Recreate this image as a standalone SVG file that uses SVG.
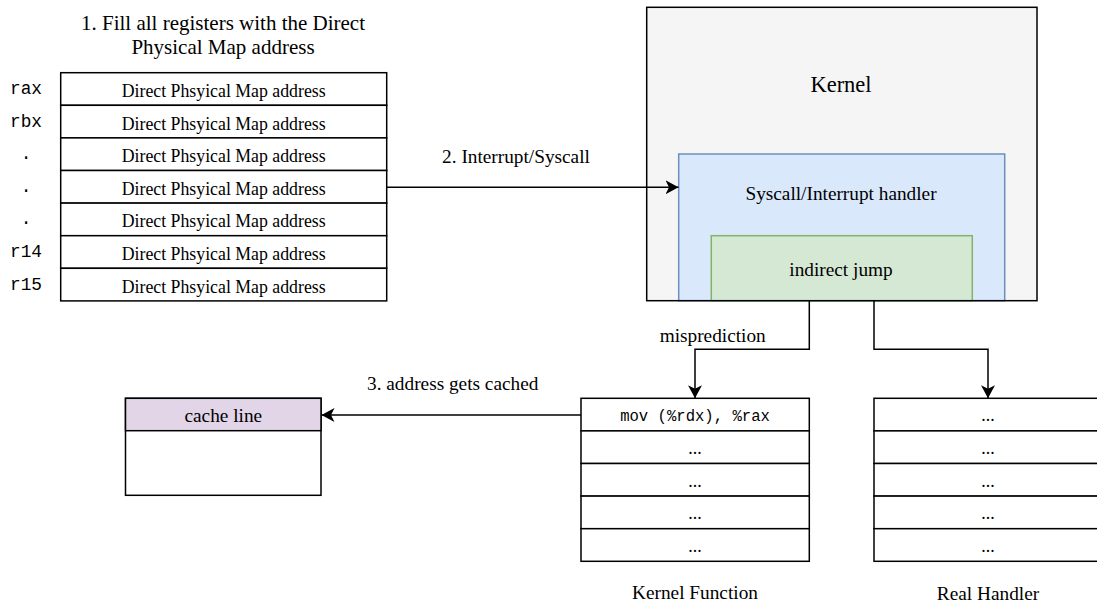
<svg xmlns="http://www.w3.org/2000/svg" width="1097" height="605" viewBox="0 0 1097 605">
  <style>
    .serif { font-family: "Liberation Serif", "Times New Roman", serif; fill: #000; text-anchor: middle; }
    .mono { font-family: "Liberation Mono", "Courier New", monospace; fill: #000; text-anchor: middle; }
    .cell { fill: #ffffff; stroke: #000; stroke-width: 1.5; }
    .edge { fill: none; stroke: #000; stroke-width: 1.5; }
    .t18 { font-size: 17.8px; }
    .t19 { font-size: 19.3px; }
    .t21 { font-size: 21px; }
  </style>
  <defs>
    <marker id="arrow" markerUnits="userSpaceOnUse" markerWidth="14" markerHeight="14" refX="13" refY="7" orient="auto">
      <path d="M0,0 L13,7 L0,14 L3.5,7 Z" fill="#000"/>
    </marker>
  </defs>

  <rect width="1097" height="605" fill="#ffffff"/>

  <!-- step 1 caption, two lines -->
  <g id="caption-fill">
    <text class="serif t21" x="223" y="30.3">1. Fill all registers with the Direct<tspan x="223" dy="23.6">Physical Map address</tspan></text>
  </g>

  <!-- register file -->
  <g id="registers">
    <rect class="cell" x="60.7" y="72.7" width="326" height="32.6"/>
    <rect class="cell" x="60.7" y="105.3" width="326" height="32.6"/>
    <rect class="cell" x="60.7" y="137.9" width="326" height="32.6"/>
    <rect class="cell" x="60.7" y="170.5" width="326" height="32.6"/>
    <rect class="cell" x="60.7" y="203.1" width="326" height="32.6"/>
    <rect class="cell" x="60.7" y="235.7" width="326" height="32.6"/>
    <rect class="cell" x="60.7" y="268.3" width="326" height="32.6"/>
    <g class="serif t18">
      <text x="223.7" y="97">Direct Phsyical Map address</text>
      <text x="223.7" y="129.6">Direct Phsyical Map address</text>
      <text x="223.7" y="162.2">Direct Phsyical Map address</text>
      <text x="223.7" y="194.8">Direct Phsyical Map address</text>
      <text x="223.7" y="227.4">Direct Phsyical Map address</text>
      <text x="223.7" y="260">Direct Phsyical Map address</text>
      <text x="223.7" y="292.6">Direct Phsyical Map address</text>
    </g>
    <g class="mono t18">
      <text x="26" y="94">rax</text>
      <text x="26" y="126.6">rbx</text>
      <text x="26" y="159.2">.</text>
      <text x="26" y="191.8">.</text>
      <text x="26" y="224.4">.</text>
      <text x="26" y="257">r14</text>
      <text x="26" y="289.6">r15</text>
    </g>
  </g>

  <!-- kernel with nested handler and indirect jump -->
  <g id="kernel">
    <rect x="646.7" y="7.3" width="390.3" height="293.4" fill="#f5f5f5"/>
    <text class="serif" x="841" y="92" font-size="22.5px">Kernel</text>
  </g>
  <g id="handler">
    <rect x="678.7" y="154" width="326" height="146.7" fill="#dae8fc" stroke="#6c8ebf" stroke-width="1.5"/>
    <text class="serif t19" x="841" y="200">Syscall/Interrupt handler</text>
  </g>
  <g id="indirect-jump">
    <rect x="711.3" y="235.7" width="261" height="65" fill="#d5e8d4" stroke="#82b366" stroke-width="1.5"/>
    <text class="serif t19" x="841" y="276">indirect jump</text>
  </g>
  <rect x="646.7" y="7.3" width="390.3" height="293.4" fill="none" stroke="#000" stroke-width="1.5"/>

  <!-- cache line -->
  <g id="cache-line">
    <rect class="cell" x="125.5" y="398.3" width="195.5" height="97"/>
    <rect x="125.5" y="398.3" width="195.5" height="32.4" fill="#e1d5e7" stroke="#000" stroke-width="1.5"/>
    <text class="serif t19" x="223.3" y="421.7">cache line</text>
  </g>

  <!-- kernel function -->
  <g id="kernel-function">
    <rect class="cell" x="581" y="398.3" width="228.3" height="32.6"/>
    <rect class="cell" x="581" y="430.9" width="228.3" height="32.6"/>
    <rect class="cell" x="581" y="463.5" width="228.3" height="32.6"/>
    <rect class="cell" x="581" y="496.1" width="228.3" height="32.6"/>
    <rect class="cell" x="581" y="528.7" width="228.3" height="32.6"/>
    <text class="mono" x="695" y="420.8" font-size="15.6px">mov (%rdx), %rax</text>
    <g class="serif t18">
      <text x="695" y="454">...</text>
      <text x="695" y="486.6">...</text>
      <text x="695" y="519.2">...</text>
      <text x="695" y="551.8">...</text>
    </g>
    <text class="serif t19" x="695" y="599">Kernel Function</text>
  </g>

  <!-- real handler -->
  <g id="real-handler">
    <rect class="cell" x="874" y="398.3" width="228.3" height="32.6"/>
    <rect class="cell" x="874" y="430.9" width="228.3" height="32.6"/>
    <rect class="cell" x="874" y="463.5" width="228.3" height="32.6"/>
    <rect class="cell" x="874" y="496.1" width="228.3" height="32.6"/>
    <rect class="cell" x="874" y="528.7" width="228.3" height="32.6"/>
    <g class="serif t18">
      <text x="988" y="421">...</text>
      <text x="988" y="454">...</text>
      <text x="988" y="486.6">...</text>
      <text x="988" y="519.2">...</text>
      <text x="988" y="551.8">...</text>
    </g>
    <text class="serif t19" x="988" y="600">Real Handler</text>
  </g>

  <!-- connectors -->
  <g id="connectors">
    <path class="edge" d="M386.7,187.3 H678.5" marker-end="url(#arrow)"/>
    <text class="serif t19" x="516" y="162.7">2. Interrupt/Syscall</text>
    <path class="edge" d="M809.3,300.7 V349.3 H695 V398.3" marker-end="url(#arrow)"/>
    <text class="serif t19" x="712.7" y="341.7">misprediction</text>
    <path class="edge" d="M874,300.7 V349.3 H988 V398.3" marker-end="url(#arrow)"/>
    <path class="edge" d="M581,415 H321.5" marker-end="url(#arrow)"/>
    <text class="serif t19" x="452.7" y="390">3. address gets cached</text>
  </g>
</svg>
